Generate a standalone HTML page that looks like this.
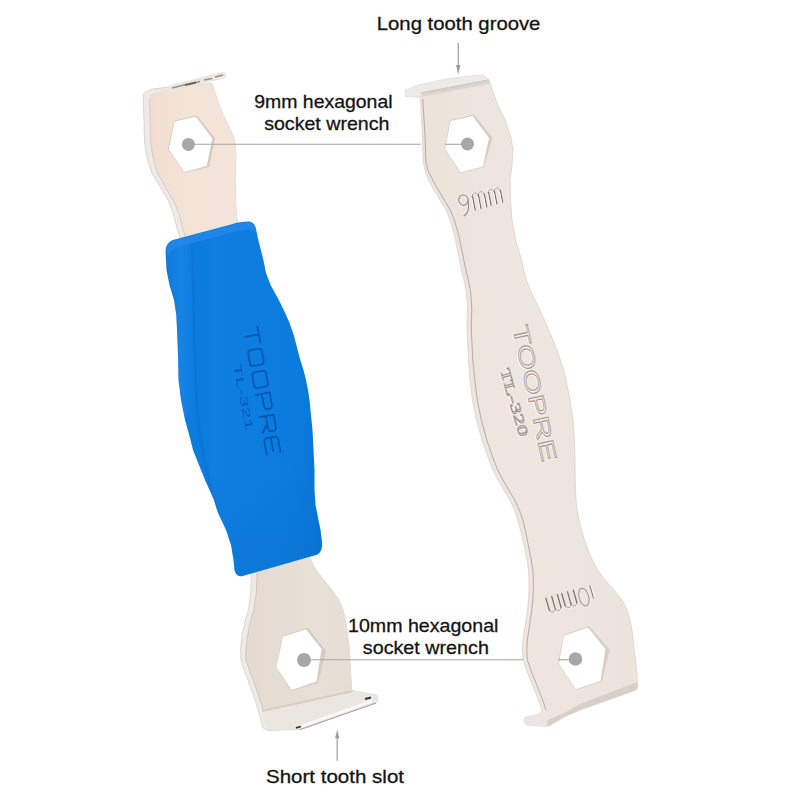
<!DOCTYPE html>
<html><head><meta charset="utf-8">
<style>
html,body{margin:0;padding:0;background:#fff;width:800px;height:800px;overflow:hidden}
svg{display:block}
.t{font-family:"Liberation Sans",sans-serif;font-size:19px;fill:#141414;stroke:#141414;stroke-width:0.3}
.eng{font-family:"Liberation Sans",sans-serif;fill:none;stroke:#a3978f;stroke-width:0.8}
.emb{font-family:"Liberation Sans",sans-serif;fill:none;stroke:#0857b6;stroke-width:1.1}
</style></head>
<body>
<svg width="800" height="800" viewBox="0 0 800 800">
<defs>
<linearGradient id="metalL" x1="0" y1="0" x2="1" y2="0">
<stop offset="0" stop-color="#f1ded1"/><stop offset="0.5" stop-color="#f4e4d8"/><stop offset="1" stop-color="#f3e3d8"/>
</linearGradient>
<linearGradient id="metalL2" x1="0" y1="0" x2="1" y2="0">
<stop offset="0" stop-color="#e4dad2"/><stop offset="0.5" stop-color="#e8dfd7"/><stop offset="1" stop-color="#e5dcd4"/>
</linearGradient>
<linearGradient id="metalR" x1="0" y1="0" x2="1" y2="0">
<stop offset="0" stop-color="#ebe2da"/><stop offset="0.5" stop-color="#efe6df"/><stop offset="1" stop-color="#ece3dc"/>
</linearGradient>
<linearGradient id="blue" x1="0" y1="0" x2="1" y2="0">
<stop offset="0" stop-color="#0a76d8"/><stop offset="0.1" stop-color="#0c7ddf"/><stop offset="0.22" stop-color="#0b7bdd"/><stop offset="0.3" stop-color="#0e7fe1"/><stop offset="0.8" stop-color="#0b7cdd"/><stop offset="1" stop-color="#0a76d7"/>
</linearGradient>
<clipPath id="gripclip"><path d="M165.6,253 C165.4,246 168,242 173,240 L230,224.75 L237.5,222.5 L248,221.6 C252,221.6 255,224 256,229 L257.75,237.5 L259.6,245 L263.4,260 L266,273 L270.6,285 L277.5,297.5 L283.75,310 L289.4,322.5 L293.75,335 L297,347.5 L300.3,360 L303.5,370 L306,380 L308,390 L309.5,400 L310.5,410 L311.5,420 L312.5,430 L313.5,450 L314.5,470 L314.5,490 L315.5,505 L317.5,515 L320.5,530 L322,542 C322.6,550 320,553.5 316,555 L242.5,576 C238,577 234.5,574 234.25,567.5 L233.5,560 L231,545 L226,530 L219,515 L217,510 L214,500 L209.5,490 L205,480 L201,470 L197,460 L193,450 L190.5,440 L185,420 L181,400 L178.5,380 L178,355 L177,330 L176.25,315 L174,300 L169.5,285 L166.5,270 Z"/></clipPath>
<linearGradient id="gripshade" x1="0" y1="0" x2="0" y2="1">
<stop offset="0" stop-color="#0a4fa8" stop-opacity="0"/><stop offset="0.65" stop-color="#0a4fa8" stop-opacity="0"/><stop offset="1" stop-color="#0a4fa8" stop-opacity="0.12"/>
</linearGradient>
<linearGradient id="gripshadeL" x1="0" y1="0" x2="1" y2="0">
<stop offset="0" stop-color="#3a9af0" stop-opacity="0.0"/><stop offset="0.12" stop-color="#3a9af0" stop-opacity="0.22"/><stop offset="0.2" stop-color="#3a9af0" stop-opacity="0.0"/><stop offset="1" stop-color="#3a9af0" stop-opacity="0"/>
</linearGradient>
</defs>

<!-- ===== LEFT WRENCH upper metal ===== -->
<path d="M143.25,97 C143.3,93.5 144,92.5 145.5,92 L152.9,89 L169.4,87 L212,83.5 L217.5,100.6 L223,114.4 L228.5,125.4 L232.7,135 L235.4,144.6 L236.1,155.6 L235.5,165 L235.2,187.5 L235.6,201 L236.3,215 L237.7,223 L240,245 L182,250 L179.9,237 L177.1,228.75 L173.7,215 L168.9,201.25 L160.6,187.5 L152.4,173.75 L148.25,162 L146,152 L144.6,142 L144,121 Z" fill="#eeeae7" stroke="#d3cbc5" stroke-width="0.8"/>
<path d="M149.5,98 C149.5,95.5 150.5,94 152.5,93.5 L169.4,88.5 L212,84.5 L217.5,100.6 L223,114.4 L228.5,125.4 L232.7,135 L235.4,144.6 L236.1,155.6 L235.5,165 L235.2,187.5 L235.6,201 L236.3,215 L237.7,223 L240,245 L187.5,250 L185.5,237 L182.8,228.75 L179.3,215 L174,201.25 L165.5,187.5 L157.8,173.75 L154,162 L152,152 L150.8,142 L150.2,121 Z" fill="url(#metalL)"/>
<path d="M149.5,99 L150.2,121 L150.8,142 L152,152 L154,162 L157.8,173.75 L165.5,187.5 L174,201.25 L179.3,215 L182.8,228.75 L185.5,237 L187,246" fill="none" stroke="#d5c9c0" stroke-width="0.9"/>
<!-- tooth strip -->
<path d="M168.5,85.5 L222.5,71.9 L226,72.8 L226,78 L171,91.5 L167.5,89.5 Z" fill="#ece6e2"/>
<path d="M172,88 L186,84.5 M190,84 L200,81.5 M204,80 L212,78.5 M215,77 L223,75" stroke="#9d918b" stroke-width="1.6"/>
<path d="M185,85 L196,82.5" stroke="#6f6460" stroke-width="2"/>
<!-- hex hole -->
<path d="M174,120.75 L196.75,115.5 L215.1,138.25 L209,167.1 L184.5,172.8 L167.9,149.6 Z" fill="#d6c9bf"/>
<path d="M174.5,121.5 L196,116.8 L212.3,138.5 L206.8,166 L184.5,172 L168.8,149.6 Z" fill="#fff"/>

<!-- ===== LEFT WRENCH lower metal ===== -->
<path d="M251.3,570 L310.5,558 L313,565 L316,570 L324,580 L332,590 L339,600 L343,610 L345.5,620 L347,630 L349.5,650 L350.6,672.5 L351.7,690.5 L376.5,695 L378,698.4 L376.5,703 L363,707.4 L333.75,717.5 L306.75,727.6 L300,729.5 L268,730.5 L263,728 L261,720 L258,710 L255,700 L251.5,690 L248,680 L244,670 L241,660 L240.6,648.75 L241.75,637.5 L245.1,620.6 L248.5,609.4 L250.75,592.5 L251.3,576.75 Z" fill="#eeeae6" stroke="#d6cfc9" stroke-width="0.8"/>
<path d="M257,570 L310.5,558 L313,565 L316,570 L324,580 L332,590 L339,600 L343,610 L345.5,620 L347,630 L349.5,650 L350.6,672.5 L351.7,690.5 L376.5,695 L378,698.4 L376.5,703 L363,707.4 L333.75,717.5 L306.75,727.6 L300,729.5 L270,730 L266.5,724 L265.5,718 L263.2,710 L260.2,700 L256.7,690 L253.2,680 L249.5,670 L245.8,660 L246,648.75 L247.3,637.5 L250.6,620.6 L254,609.4 L256.3,592.5 L257,576.75 Z" fill="url(#metalL2)"/>
<path d="M257,572 L257,576.75 L256.3,592.5 L254,609.4 L250.6,620.6 L247.3,637.5 L246,648.75 L245.8,660 L249.5,670 L253.2,680 L256.7,690 L260.2,700 L263.2,710" fill="none" stroke="#cdc3bc" stroke-width="0.9"/>
<!-- tab / fold -->
<path d="M262,711 L351.7,690.5 L376.5,695 L378,698.4 L376.5,703 L363,707.4 L333.75,717.5 L306.75,727.6 L300,729.5 L270,730 L266,726 Z" fill="#ece6e1"/>
<path d="M262,711 L353,691" stroke="#d8cec6" stroke-width="2"/>
<path d="M301,726.5 L372,701" stroke="#fbfaf8" stroke-width="2.4"/>
<path d="M300,729.6 L376,703" stroke="#a99e97" stroke-width="1"/>
<path d="M365,699 L371,697.5" stroke="#3b3431" stroke-width="2"/>
<path d="M296,727.8 L301,726.5" stroke="#3b3431" stroke-width="1.8"/>
<path d="M282.5,635.5 L308,628 L326,651 L318,683 L291,691 L276,668 Z" fill="#d6ccc4"/>
<path d="M283,636.5 L306,629.5 L321.5,649 L316.5,681.5 L291.5,690 L276.5,667.5 Z" fill="#fff"/>

<!-- ===== BLUE GRIP ===== -->
<path d="M165.6,253 C165.4,246 168,242 173,240 L230,224.75 L237.5,222.5 L248,221.6 C252,221.6 255,224 256,229 L257.75,237.5 L259.6,245 L263.4,260 L266,273 L270.6,285 L277.5,297.5 L283.75,310 L289.4,322.5 L293.75,335 L297,347.5 L300.3,360 L303.5,370 L306,380 L308,390 L309.5,400 L310.5,410 L311.5,420 L312.5,430 L313.5,450 L314.5,470 L314.5,490 L315.5,505 L317.5,515 L320.5,530 L322,542 C322.6,550 320,553.5 316,555 L242.5,576 C238,577 234.5,574 234.25,567.5 L233.5,560 L231,545 L226,530 L219,515 L217,510 L214,500 L209.5,490 L205,480 L201,470 L197,460 L193,450 L190.5,440 L185,420 L181,400 L178.5,380 L178,355 L177,330 L176.25,315 L174,300 L169.5,285 L166.5,270 Z" fill="url(#blue)"/>
<!-- grip cap highlight -->
<g clip-path="url(#gripclip)">
<rect x="160" y="215" width="170" height="365" fill="url(#gripshade)"/>
<rect x="160" y="215" width="170" height="200" fill="url(#gripshadeL)"/>
<path d="M166.2,252 C166,246 168.5,242.5 173,241 L230,225.5 L237.5,223.3 L248,222.4 C252,222.4 254.6,224.6 255.5,229 L256,232 C250,229 244,229.5 236,231.5 L176,247.5 C172,249 169,252 168,258 Z" fill="#2688ea" opacity="0.75"/>
<path d="M192,246 C194,300 194,370 198,420 C204,470 220,520 232,565" fill="none" stroke="#0a62c8" stroke-width="2.5" opacity="0.25"/>
</g>
<!-- embossed text on grip -->
<g transform="translate(244.2,329) rotate(79.6)" fill="none" stroke="#0855b2" stroke-width="1.7" stroke-linecap="round" stroke-linejoin="round">
<path d="M0,-13.5 L16,-13.5 M8,-13.5 L8,0.5"/>
<rect x="22" y="-13.5" width="16" height="14" rx="3.2"/>
<rect x="44.5" y="-13.5" width="16" height="14" rx="3.2"/>
<path d="M67,0.5 L67,-13.5 L79.5,-13.5 Q83,-13.5 83,-10 L83,-9 Q83,-5.5 79.5,-5.5 L67,-5.5"/>
<path d="M89.5,0.5 L89.5,-13.5 L102,-13.5 Q105.5,-13.5 105.5,-10 L105.5,-9 Q105.5,-5.5 102,-5.5 L89.5,-5.5 M97,-5.5 L105.5,0.5"/>
<path d="M127.5,-13.5 L115,-13.5 Q111.5,-13.5 111.5,-10 L111.5,-3 Q111.5,0.5 115,0.5 L127.5,0.5 M111.5,-6.5 L125,-6.5"/>
</g>
<text font-family="Liberation Sans, sans-serif" font-size="11" fill="#0a58b8" transform="translate(233.3,365) rotate(79)" textLength="67" lengthAdjust="spacingAndGlyphs">TL-321</text>

<!-- ===== RIGHT WRENCH ===== -->
<path d="M405,91.25 C405,89.5 406,89.4 407.5,89.4 L418.75,85 L447.5,78.75 L480,75 C484,75 486,76 487,78 L490,82.5 L495,97.5 L498,105 L505,120 L511,138 L513,150 L512,165 L510,180 L510.5,200 L512,220 L515.5,240 L521.5,260 L523.5,270 L526.5,280 L530,290 L535,300 L540,310 L544.5,320 L548.5,330 L553,340 L557,350 L560.5,360 L563.5,370 L566,380 L568,390 L570,400 L571.5,410 L573,420 L574.5,440 L575,460 L575.2,480 L576,500 L577,510 L579,520 L581.5,530 L584.5,540 L588,550 L592.5,560 L597.5,570 L605,580 L614,590 L622,600 L627,610 L630,620 L632,630 L633,640 L634,650 L635.5,660 L637,675 L637.5,687 L636,690 L580,710 L565,716.5 L548,726.5 L527,725 L524,721.5 L525,717.5 L540,714 L542,710 L538.5,700 L534.5,690 L530.5,680 L526.5,670 L523,660 L522.5,650 L523,640 L524.5,630 L526,620 L527.5,610 L528.5,600 L529,590 L529,580 L528.5,570 L527,560 L525,550 L523,540 L520.5,530 L518,520 L514.5,510 L510,500 L504,490 L498,480 L493,470 L489,460 L482,440 L476.5,420 L472.5,400 L470,380 L468.5,360 L467.5,340 L467,330 L467,320 L467.5,310 L467,300 L466,290 L464,280 L461.5,270 L459.5,260 L457.5,250 L455.5,240 L453,230 L450,220 L446,210 L440,200 L434,190 L428.5,180 L425,170 L423,160 L422.5,135 L421,110 L420.6,97.5 L405.6,96.25 Z" fill="url(#metalR)" stroke="#d9d0cb" stroke-width="0.8"/>
<!-- side bevel on left edge of right wrench -->
<path transform="translate(1.8,0)" d="M421,99 L421.6,110 L423.2,135 L424,160 L426,170 L431,180 L436.5,190 L442.5,200 L448.5,210 L452.5,220 L455.5,230 L458,240 L460,250 L462,260 L464,270 L466.5,280 L468.5,290 L469.5,300 L470,310 L469.5,320 L469.5,330 L470,340 L471,360 L473,380 L475.5,400 L479.5,420 L485,440 L492,460 L496,470 L501,480 L507,490 L513,500 L517.5,510 L521,520 L523.5,530 L525.5,540 L527.5,550 L529.5,560 L531,570 L531.5,580 L531.5,590 L531,600 L530,610 L528.5,620 L527,630 L525.5,640 L525,650 L525.5,660 L529,670 L533,680 L537,690 L541,700 L544,710" fill="none" stroke="#b3a49e" stroke-width="0.9"/>
<!-- top tab fold -->
<path d="M407.5,89.4 L418.75,85 L447.5,78.75 L480,75 C484,75 486,76 487,78 L490,82.5 L421,94 L420.6,97.5 L405.6,96.25 L405,91.25 Z" fill="#eeeae7"/>
<path d="M421,94.5 L489.5,81.5" stroke="#dcd4cf" stroke-width="4.5"/>
<path d="M421,93.2 L489,80.2" stroke="#d2cac5" stroke-width="1.4"/>
<!-- bottom face -->
<path d="M637.5,682 L637.5,687 L636,690 L580,710 L565,716.5 L548,726.5 L546,721 L566,712 L580,704 Z" fill="#d8cfc9"/>
<path d="M524,721.5 L525,717.5 L540,714 L546,721 L548,726.5 L527,725 Z" fill="#ebe5e1"/>
<!-- hexes -->
<path d="M450,120 L474,114.5 L492.5,138 L484,167 L460,173.5 L444.5,149 Z" fill="#d6cdc6"/>
<path d="M450.5,121 L472.5,116 L489,138 L483,166.5 L460.5,172.5 L445.2,149 Z" fill="#fff"/>
<path d="M563.5,635 L589,626 L609.5,649.5 L602,681.5 L576,690 L558,664 Z" fill="#d6cdc6"/>
<path d="M564,635.8 L588,627.5 L605.5,649 L600.5,681 L576,689.2 L558.8,664 Z" fill="#fff"/>
<!-- engraved text right wrench -->
<g transform="translate(460,212.5) rotate(-11)" fill="none">
<ellipse cx="5.6" cy="-11.5" rx="4.6" ry="5.2" stroke="#fff" stroke-width="1.3" transform="translate(-0.6,0.4)"/>
<ellipse cx="5.6" cy="-11.5" rx="4.6" ry="5.2" stroke="#968983" stroke-width="1.1"/>
<path d="M10.2,-11.5 C10.4,-3 8.5,2.5 3,4.2" stroke="#968983" stroke-width="1.1"/>
<path d="M15,-13.5 C15.5,-17.5 20.5,-17.5 21,-13.5 M21,-13.5 C21.5,-17.5 26.5,-17.5 27,-13.5 M31.5,-14 C32,-18 37,-18 37.5,-14 M37.5,-14 C38,-18 43,-18 43.5,-14" stroke="#fbf8f6" stroke-width="1.4" transform="translate(-0.6,-0.5)"/>
<path d="M15,-13.5 C15.5,-17.5 20.5,-17.5 21,-13.5 M21,-13.5 C21.5,-17.5 26.5,-17.5 27,-13.5 M31.5,-14 C32,-18 37,-18 37.5,-14 M37.5,-14 C38,-18 43,-18 43.5,-14" stroke="#a3968f" stroke-width="0.9"/>
<path d="M15.3,1 V-14 M21.3,0.5 V-14 M27.3,0 V-14 M31.8,-0.5 V-14.5 M37.8,-1 V-14.5 M43.8,-1.5 V-14.5" stroke="#7d716c" stroke-width="1.3"/>
<path d="M14.2,1 V-13 M20.2,0.5 V-13 M26.2,0 V-13 M30.7,-0.5 V-13.5 M36.7,-1 V-13.5 M42.7,-1.5 V-13.5" stroke="#fdfbfa" stroke-width="0.9"/>
</g>
<text class="eng" font-size="22" style="stroke:#fff;stroke-width:1.1" transform="translate(511.6,327.5) rotate(77.5)" textLength="139" lengthAdjust="spacingAndGlyphs">TOOPRE</text>
<text class="eng" font-size="22" transform="translate(512.3,327) rotate(77.5)" textLength="139" lengthAdjust="spacingAndGlyphs">TOOPRE</text>
<text class="eng" font-size="14" style="font-family:'Liberation Serif',serif;stroke:#fff;stroke-width:1" transform="translate(499.3,370.5) rotate(74)" textLength="70" lengthAdjust="spacingAndGlyphs">TL-320</text>
<text class="eng" font-size="14" style="font-family:'Liberation Serif',serif" transform="translate(500,370) rotate(74)" textLength="70" lengthAdjust="spacingAndGlyphs">TL-320</text>
<g transform="translate(591.5,585.5) rotate(164)" fill="none">
<path d="M1.5,0.5 V-13" stroke="#8f827d" stroke-width="1.2"/>
<path d="M0.4,0.5 V-13" stroke="#fdfbfa" stroke-width="0.8"/>
<ellipse cx="10.4" cy="-9" rx="4.8" ry="9" stroke="#fdfbfa" stroke-width="1.3" transform="translate(-0.6,0)"/>
<ellipse cx="10.4" cy="-9" rx="4.8" ry="9" stroke="#a1948e" stroke-width="1.1"/>
<path d="M18.5,-12 C19,-16 24,-16 24.5,-12 M24.5,-12 C25,-16 30,-16 30.5,-12 M35,-12 C35.5,-16 40.5,-16 41,-12 M41,-12 C41.5,-16 46.5,-16 47,-12" stroke="#fbf8f6" stroke-width="1.5" transform="translate(-0.6,-0.5)"/>
<path d="M18.5,-12 C19,-16 24,-16 24.5,-12 M24.5,-12 C25,-16 30,-16 30.5,-12 M35,-12 C35.5,-16 40.5,-16 41,-12 M41,-12 C41.5,-16 46.5,-16 47,-12" stroke="#a3968f" stroke-width="0.9"/>
<path d="M18.8,1 V-13 M24.8,1 V-13 M30.8,1 V-13 M35.3,1 V-13 M41.3,1 V-13 M47.3,1 V-13" stroke="#7d716c" stroke-width="1.25"/>
</g>

<!-- ===== callout lines / dots ===== -->
<line x1="188.4" y1="144.3" x2="420.8" y2="144.3" stroke="#a6a6a6" stroke-width="1.1"/>
<line x1="445" y1="144.3" x2="467.5" y2="144.3" stroke="#a6a6a6" stroke-width="1.1"/>
<line x1="304" y1="659.8" x2="523" y2="659.8" stroke="#a6a6a6" stroke-width="1.1"/>
<line x1="558.2" y1="659.8" x2="575.5" y2="659.8" stroke="#a6a6a6" stroke-width="1.1"/>
<circle cx="188.4" cy="144.4" r="6.5" fill="#a7a7a7"/>
<circle cx="467.5" cy="144" r="6.5" fill="#a7a7a7"/>
<circle cx="304" cy="660" r="7" fill="#a7a7a7"/>
<circle cx="575.5" cy="659" r="6.8" fill="#a7a7a7"/>

<!-- arrows -->
<line x1="458.25" y1="43" x2="458.25" y2="68" stroke="#9c9c9c" stroke-width="1.2"/>
<path d="M456.1,65 L458.25,74.6 L460.4,65 Z" fill="#9c9c9c"/>
<line x1="337.2" y1="735" x2="337.2" y2="760.8" stroke="#9c9c9c" stroke-width="1.2"/>
<path d="M335.1,738.3 L337.2,729.6 L339.3,738.3 Z" fill="#9c9c9c"/>

<!-- labels -->
<text class="t" x="376.8" y="30.2" textLength="163.6" lengthAdjust="spacingAndGlyphs">Long tooth groove</text>
<text class="t" x="254.2" y="108" textLength="138.4" lengthAdjust="spacingAndGlyphs">9mm hexagonal</text>
<text class="t" x="264.2" y="130" textLength="125.2" lengthAdjust="spacingAndGlyphs">socket wrench</text>
<text class="t" x="348" y="632.4" textLength="150.4" lengthAdjust="spacingAndGlyphs">10mm hexagonal</text>
<text class="t" x="362.8" y="654" textLength="126.1" lengthAdjust="spacingAndGlyphs">socket wrench</text>
<text class="t" x="266" y="782.5" textLength="138" lengthAdjust="spacingAndGlyphs">Short tooth slot</text>
</svg>
</body></html>
